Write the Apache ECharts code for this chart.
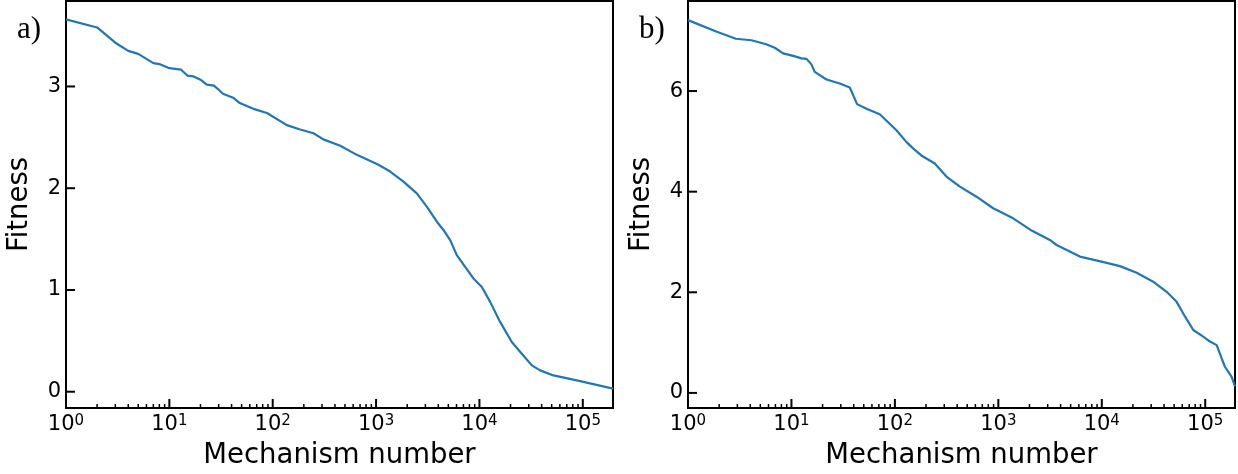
<!DOCTYPE html>
<html><head><meta charset="utf-8">
<script src="https://cdn.jsdelivr.net/npm/echarts@6/dist/echarts.min.js"></script>
<style>html,body{margin:0;padding:0;background:#fff}#c{width:1238px;height:474px}</style>
</head><body><div id="c"></div>
<script>
const panelLabels = ['a)', 'b)'];
const xTitle = 'Mechanism number';
const yTitle = 'Fitness';
const xTickValues = [1, 10, 100, 1000, 10000, 100000];
const yTicksA = [0, 1, 2, 3];
const yTicksB = [0, 2, 4, 6];

// Panel a) values
const nA = [1, 2, 3, 4, 5, 7, 8, 10, 13, 15, 17, 20, 23, 27, 30, 33, 42, 48, 65, 88, 137, 184, 248, 309, 450, 652, 1054, 1368, 1841, 2477, 3097, 3873, 4487, 5212, 6039, 7278, 8750, 10544, 12706, 15849, 20560, 25704, 32137, 38637, 52000, 87500, 196000];
const fitA = [3.66, 3.58, 3.43, 3.35, 3.32, 3.23, 3.22, 3.18, 3.165, 3.106, 3.10, 3.067, 3.018, 3.008, 2.968, 2.929, 2.886, 2.837, 2.78, 2.739, 2.62, 2.577, 2.54, 2.48, 2.417, 2.328, 2.23, 2.164, 2.065, 1.95, 1.819, 1.671, 1.59, 1.49, 1.343, 1.228, 1.113, 1.03, 0.883, 0.686, 0.489, 0.374, 0.259, 0.21, 0.16, 0.111, 0.03];

// Panel b) values
const nB = [1, 1.9, 2.9, 4.1, 5.7, 6.9, 8.3, 10.4, 12.5, 14, 15.6, 16.8, 21.8, 29.3, 36.6, 39.5, 43.1, 53.1, 71.4, 83, 103.5, 129, 150, 180, 243, 315, 425, 615, 891, 1390, 2050, 3148, 3656, 6138, 9954, 14962, 21730, 31400, 42360, 52900, 63700, 76600, 95700, 111100, 129000, 144000, 155000, 180000, 194000];
const fitB = [7.41, 7.18, 7.04, 7.01, 6.93, 6.86, 6.75, 6.70, 6.65, 6.64, 6.53, 6.38, 6.23, 6.15, 6.07, 5.92, 5.74, 5.65, 5.54, 5.41, 5.22, 4.99, 4.86, 4.72, 4.56, 4.30, 4.10, 3.90, 3.67, 3.47, 3.24, 3.04, 2.94, 2.71, 2.61, 2.52, 2.39, 2.21, 2.01, 1.81, 1.52, 1.25, 1.12, 1.02, 0.95, 0.69, 0.52, 0.32, 0.13];

const axisRange = {
  a: { xMax: 196000, yMin: -0.16, yMax: 3.84 },
  b: { xMax: 194000, yMin: -0.30, yMax: 7.79 }
};

const minorTicks = [];
for (let k = 0; k <= 5; k++) for (let m = 2; m <= 9; m++) minorTicks.push(m * Math.pow(10, k));

const FONT = 'DejaVu Sans';
function xAxisCfg(idx, max) {
  return {
    type: 'log', gridIndex: idx, min: 1, max: max, logBase: 10,
    name: xTitle, nameLocation: 'middle', nameGap: 34,
    nameTextStyle: { fontFamily: FONT, fontSize: 27.5, color: '#000' },
    axisLine: { show: true, onZero: false, lineStyle: { color: '#000', width: 2 } },
    axisTick: { show: false },
    axisLabel: {
      show: true, margin: 6, customValues: xTickValues,
      formatter: function (v) { return '{b|10}{s|' + Math.round(Math.log10(v)) + '}'; },
      rich: {
        b: { fontFamily: FONT, fontSize: 21, color: '#000', lineHeight: 22 },
        s: { fontFamily: FONT, fontSize: 15, color: '#000', verticalAlign: 'top', lineHeight: 8 }
      }
    },
    splitLine: { show: false }, minorTick: { show: false }
  };
}
function yAxisCfg(idx, r, ticks) {
  return {
    type: 'value', gridIndex: idx, min: r.yMin, max: r.yMax,
    name: yTitle, nameLocation: 'middle', nameGap: 32, nameRotate: 90,
    nameTextStyle: { fontFamily: FONT, fontSize: 27.5, color: '#000' },
    axisLine: { show: true, onZero: false, lineStyle: { color: '#000', width: 2 } },
    axisTick: { show: false },
    axisLabel: { show: true, margin: 5, customValues: ticks, fontFamily: FONT, fontSize: 21, color: '#000' },
    splitLine: { show: false }
  };
}
// tick marks drawn through the axes' own scales
function tickSeries(idx, data, dir, len, width) {
  return {
    type: 'custom', xAxisIndex: idx, yAxisIndex: idx, silent: true, clip: false, z: 5,
    data: data,
    renderItem: function (params, api) {
      const p = api.coord([api.value(0), api.value(1)]);
      const x2 = dir === 'x' ? p[0] : p[0] + len;
      const y2 = dir === 'x' ? p[1] - len : p[1];
      return { type: 'line', shape: { x1: p[0], y1: p[1], x2: x2, y2: y2 }, style: { stroke: '#000', lineWidth: width } };
    }
  };
}
function ticksFor(idx, r, yTicks) {
  return [
    tickSeries(idx, minorTicks.filter(v => v < r.xMax).map(v => [v, r.yMin]), 'x', 4, 1.5),
    tickSeries(idx, xTickValues.filter(v => v > 1 && v < r.xMax).map(v => [v, r.yMin]), 'x', 9, 2),
    tickSeries(idx, yTicks.map(v => [1, v]), 'y', 9, 2)
  ];
}

const chart = echarts.init(document.getElementById('c'), null, { renderer: 'canvas' });
chart.setOption({
  animation: false,
  backgroundColor: '#fff',
  grid: [
    { left: 66, top: 1, width: 547, height: 407, show: true, borderColor: '#000', borderWidth: 2, backgroundColor: 'transparent', containLabel: false, outerBoundsMode: 'none' },
    { left: 688, top: 1, width: 547, height: 407, show: true, borderColor: '#000', borderWidth: 2, backgroundColor: 'transparent', containLabel: false, outerBoundsMode: 'none' }
  ],
  xAxis: [xAxisCfg(0, axisRange.a.xMax), xAxisCfg(1, axisRange.b.xMax)],
  yAxis: [yAxisCfg(0, axisRange.a, yTicksA), yAxisCfg(1, axisRange.b, yTicksB)],
  graphic: [
    { type: 'text', left: 17, top: 14, style: { text: panelLabels[0], fontFamily: 'Liberation Serif', fontSize: 31, fill: '#000' } },
    { type: 'text', left: 639, top: 14, style: { text: panelLabels[1], fontFamily: 'Liberation Serif', fontSize: 31, fill: '#000' } }
  ],
  series: [
    { type: 'line', xAxisIndex: 0, yAxisIndex: 0, data: nA.map((n, i) => [n, fitA[i]]), showSymbol: false, lineStyle: { color: '#1f77b4', width: 2.2 }, z: 3 },
    { type: 'line', xAxisIndex: 1, yAxisIndex: 1, data: nB.map((n, i) => [n, fitB[i]]), showSymbol: false, lineStyle: { color: '#1f77b4', width: 2.2 }, z: 3 }
  ].concat(ticksFor(0, axisRange.a, yTicksA), ticksFor(1, axisRange.b, yTicksB))
});
</script></body></html>
